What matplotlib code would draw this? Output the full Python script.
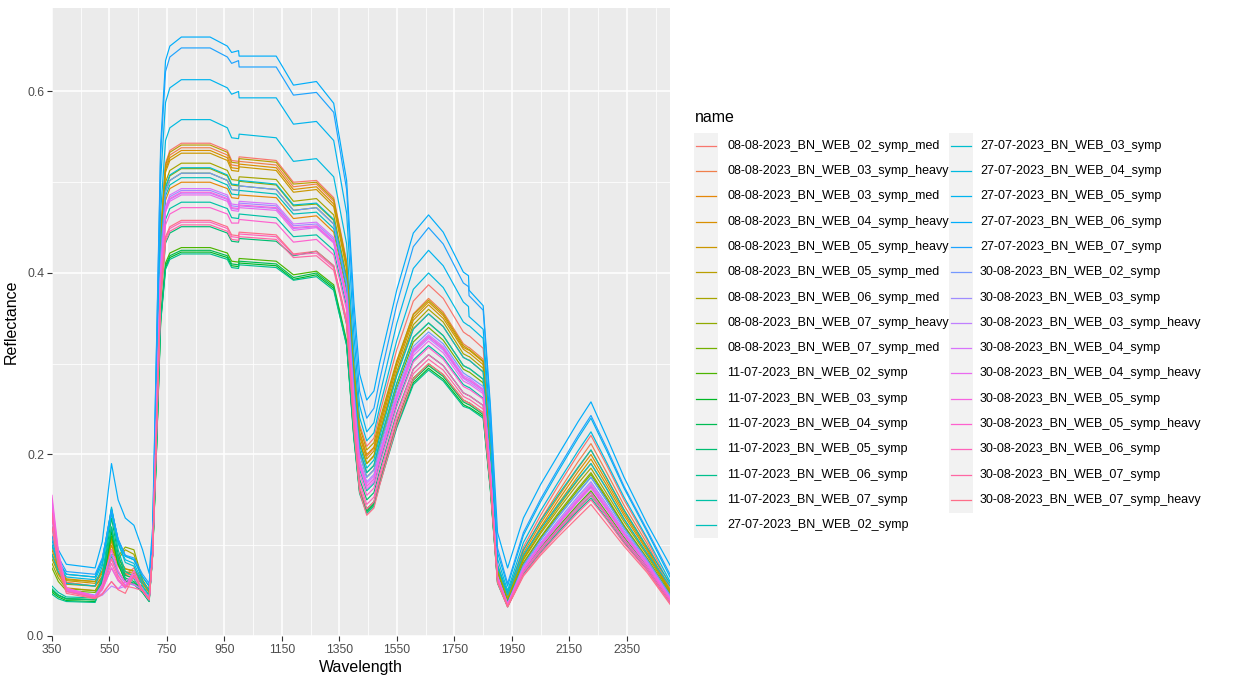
import numpy as np
import matplotlib
matplotlib.use("Agg")
import matplotlib.pyplot as plt
from matplotlib.patches import Rectangle

plt.rcParams['font.family'] = ['Liberation Sans', 'DejaVu Sans']

wavelength = [350, 372, 400, 500, 525, 557, 580, 605, 635, 665, 688,
              700, 712, 728, 745, 760,
              800, 900, 960, 975, 999, 1001, 1130, 1190, 1270, 1330, 1375,
              1400, 1420, 1445, 1470, 1490, 1550, 1607, 1660, 1711, 1781, 1799, 1801, 1850, 1875, 1900,
              1935, 1990, 2050, 2110, 2180, 2225, 2280, 2340, 2420, 2500]

# reflectance per sample (visible | red edge | NIR | SWIR1 | SWIR2)
r0808_02_med = [.100, .075, .059, .055, .065, .095, .077, .067, .075, .060, .050,
                .100, .244, .445, .521, .535,
                .543, .543, .535, .524, .523, .528, .524, .500, .502, .483, .413,
                .301, .233, .209, .218, .245, .316, .369, .387, .372, .335, .331, .331, .317, .213, .079,
                .045, .098, .133, .165, .200, .221, .188, .150, .106, .055]
r0808_03_heavy = [.110, .080, .059, .055, .066, .100, .080, .069, .066, .060, .050,
                  .100, .242, .441, .516, .530,
                  .538, .538, .530, .519, .518, .523, .519, .495, .498, .479, .409,
                  .293, .223, .198, .207, .233, .302, .355, .372, .357, .322, .318, .318, .305, .205, .076,
                  .043, .094, .128, .158, .192, .212, .180, .144, .102, .052]
r0808_03_med = [.090, .068, .053, .050, .064, .105, .080, .067, .064, .058, .048,
                .098, .225, .410, .480, .493,
                .500, .500, .493, .483, .482, .486, .483, .460, .463, .445, .380,
                .276, .213, .190, .198, .223, .289, .339, .355, .341, .307, .304, .304, .291, .195, .073,
                .042, .091, .124, .153, .185, .205, .174, .139, .098, .050]
r0808_04_heavy = [.100, .078, .063, .060, .072, .108, .086, .074, .072, .060, .050,
                  .100, .241, .439, .514, .527,
                  .535, .535, .527, .516, .515, .520, .516, .492, .495, .476, .407,
                  .293, .225, .200, .208, .234, .301, .351, .368, .353, .318, .315, .315, .302, .202, .073,
                  .040, .088, .120, .149, .181, .200, .170, .136, .096, .050]
r0808_05_heavy = [.095, .075, .061, .058, .069, .100, .081, .071, .069, .058, .048,
                  .098, .239, .436, .511, .524,
                  .532, .532, .524, .513, .512, .517, .513, .489, .492, .473, .404,
                  .289, .220, .195, .204, .229, .297, .348, .365, .350, .316, .312, .312, .299, .201, .073,
                  .040, .087, .118, .145, .176, .195, .166, .133, .094, .048]
r0808_05_med = [.090, .074, .062, .060, .071, .105, .085, .074, .071, .060, .050,
                .100, .243, .444, .519, .533,
                .541, .541, .533, .522, .521, .526, .522, .498, .500, .481, .411,
                .298, .230, .205, .213, .238, .304, .354, .370, .355, .320, .316, .316, .303, .204, .073,
                .040, .085, .115, .142, .172, .190, .162, .129, .091, .050]
r0808_06_med = [.085, .069, .057, .055, .065, .095, .085, .095, .090, .060, .050,
                .100, .234, .427, .500, .513,
                .521, .521, .513, .503, .502, .506, .503, .479, .482, .464, .396,
                .283, .215, .190, .199, .224, .292, .343, .360, .346, .311, .308, .308, .295, .198, .072,
                .040, .084, .113, .139, .168, .185, .157, .126, .089, .048]
r0808_07_heavy = [.080, .064, .052, .050, .060, .090, .088, .098, .095, .062, .050,
                  .100, .232, .422, .494, .507,
                  .515, .515, .507, .497, .496, .501, .497, .474, .476, .458, .391,
                  .275, .205, .180, .188, .213, .279, .329, .345, .331, .298, .295, .295, .283, .190, .069,
                  .038, .081, .109, .135, .163, .180, .153, .122, .086, .046]
r0808_07_med = [.075, .060, .050, .048, .058, .088, .070, .060, .058, .055, .045,
                .095, .230, .418, .490, .502,
                .510, .510, .502, .492, .491, .496, .492, .469, .472, .454, .388,
                .271, .201, .175, .183, .208, .274, .324, .340, .326, .294, .291, .291, .279, .187, .067,
                .037, .079, .108, .133, .161, .178, .151, .121, .085, .046]
r1107_02 = [.050, .045, .041, .040, .058, .110, .079, .061, .058, .050, .040,
            .090, .193, .351, .411, .422,
            .428, .428, .422, .413, .412, .416, .413, .398, .402, .387, .325,
            .223, .162, .140, .148, .172, .236, .284, .300, .288, .260, .257, .257, .246, .165, .062,
            .035, .073, .098, .120, .145, .160, .136, .109, .077, .040]
r1107_03 = [.048, .043, .039, .038, .057, .115, .080, .061, .057, .048, .038,
            .088, .190, .347, .406, .417,
            .423, .423, .417, .408, .407, .411, .408, .393, .398, .383, .321,
            .220, .159, .137, .145, .169, .232, .279, .295, .283, .255, .252, .252, .242, .162, .059,
            .033, .070, .094, .116, .140, .155, .132, .105, .074, .038]
r1107_04 = [.050, .045, .041, .040, .060, .120, .084, .064, .060, .050, .040,
            .090, .191, .349, .408, .419,
            .425, .425, .419, .410, .409, .413, .410, .395, .400, .385, .323,
            .221, .160, .138, .146, .170, .234, .282, .298, .286, .258, .255, .255, .244, .164, .060,
            .033, .071, .096, .118, .143, .158, .134, .107, .076, .039]
r1107_05 = [.052, .045, .041, .040, .063, .130, .090, .067, .063, .050, .040,
            .090, .203, .370, .433, .444,
            .451, .451, .444, .435, .434, .438, .435, .419, .424, .408, .343,
            .237, .173, .150, .158, .182, .246, .294, .310, .298, .268, .265, .265, .254, .171, .063,
            .035, .074, .100, .123, .149, .165, .140, .112, .079, .042]
r1107_06 = [.046, .041, .038, .037, .058, .120, .083, .062, .058, .048, .038,
            .088, .189, .345, .404, .415,
            .421, .421, .415, .406, .405, .409, .406, .392, .396, .381, .320,
            .218, .157, .135, .143, .167, .230, .277, .293, .281, .253, .251, .251, .240, .161, .058,
            .032, .068, .092, .114, .138, .152, .129, .103, .073, .037]
r1107_07 = [.055, .048, .043, .042, .066, .138, .095, .071, .066, .052, .042,
            .092, .215, .392, .459, .471,
            .478, .478, .471, .461, .460, .465, .461, .440, .442, .425, .363,
            .251, .184, .160, .168, .192, .256, .304, .320, .307, .277, .274, .274, .262, .176, .065,
            .037, .078, .106, .131, .158, .175, .149, .119, .084, .045]
r2707_02 = [.100, .081, .068, .065, .084, .140, .106, .088, .084, .065, .055,
            .105, .227, .414, .485, .497,
            .505, .505, .497, .487, .486, .491, .487, .465, .467, .449, .384,
            .272, .204, .180, .188, .213, .279, .329, .345, .331, .298, .295, .295, .283, .190, .078,
            .048, .095, .127, .155, .186, .205, .174, .139, .098, .058]
r2707_03 = [.090, .071, .058, .055, .077, .142, .103, .081, .077, .055, .045,
            .095, .232, .423, .495, .508,
            .516, .516, .508, .498, .497, .502, .498, .475, .477, .459, .392,
            .278, .210, .185, .194, .219, .287, .338, .355, .341, .307, .304, .304, .291, .195, .076,
            .045, .089, .118, .144, .173, .190, .162, .129, .091, .055]
r2707_04 = [.100, .079, .065, .062, .080, .135, .102, .084, .080, .060, .050,
            .100, .256, .467, .546, .560,
            .569, .569, .560, .549, .548, .553, .549, .523, .526, .506, .432,
            .313, .241, .215, .224, .252, .326, .382, .400, .384, .346, .342, .342, .328, .220, .085,
            .050, .103, .138, .169, .204, .225, .191, .153, .108, .060]
r2707_05 = [.105, .083, .068, .065, .084, .140, .106, .088, .084, .065, .055,
            .105, .276, .503, .588, .604,
            .613, .613, .604, .597, .600, .593, .593, .564, .567, .546, .466,
            .333, .254, .225, .235, .265, .345, .405, .425, .408, .368, .363, .352, .338, .234, .092,
            .055, .111, .148, .181, .218, .240, .204, .163, .115, .065]
r2707_06 = [.120, .095, .079, .075, .104, .190, .150, .130, .122, .095, .069,
            .119, .297, .541, .634, .650,
            .660, .660, .650, .643, .645, .639, .639, .607, .611, .587, .502,
            .369, .289, .260, .270, .301, .382, .444, .464, .445, .401, .397, .381, .364, .255, .114,
            .075, .130, .167, .199, .236, .258, .219, .175, .124, .078]
r2707_07 = [.110, .087, .071, .068, .086, .138, .107, .089, .086, .068, .058,
            .108, .292, .531, .622, .638,
            .648, .648, .638, .631, .634, .627, .627, .596, .599, .577, .492,
            .353, .270, .240, .251, .282, .366, .429, .450, .432, .389, .385, .375, .359, .248, .097,
            .058, .114, .151, .184, .221, .243, .207, .165, .117, .068]
r3008_02 = [.120, .079, .051, .045, .056, .090, .070, .059, .056, .052, .042,
            .092, .230, .418, .490, .502,
            .510, .510, .502, .492, .491, .496, .492, .469, .472, .454, .388,
            .271, .201, .175, .183, .207, .271, .319, .335, .322, .290, .286, .286, .275, .184, .066,
            .036, .078, .106, .131, .158, .175, .149, .119, .084, .045]
r3008_03 = [.130, .082, .050, .043, .051, .075, .061, .053, .065, .050, .040,
            .090, .221, .403, .471, .484,
            .491, .491, .484, .474, .473, .477, .474, .452, .454, .437, .373,
            .261, .194, .170, .178, .202, .266, .314, .330, .317, .285, .282, .282, .271, .182, .065,
            .035, .076, .103, .127, .154, .170, .145, .116, .082, .043]
r3008_03_heavy = [.140, .086, .050, .042, .045, .055, .052, .055, .065, .050, .040,
                  .090, .220, .400, .468, .481,
                  .488, .488, .481, .471, .470, .474, .471, .449, .451, .434, .371,
                  .258, .190, .165, .173, .198, .263, .312, .328, .315, .284, .280, .280, .269, .180, .064,
                  .035, .074, .100, .123, .149, .165, .140, .112, .079, .042]
r3008_04 = [.145, .089, .052, .044, .054, .085, .067, .056, .068, .051, .041,
            .091, .222, .404, .473, .486,
            .493, .493, .486, .476, .475, .479, .476, .454, .456, .439, .375,
            .261, .193, .168, .176, .201, .266, .316, .332, .319, .287, .284, .284, .272, .183, .065,
            .035, .075, .102, .125, .152, .168, .143, .114, .081, .042]
r3008_04_heavy = [.150, .091, .052, .043, .047, .060, .052, .060, .068, .050, .040,
                  .090, .219, .399, .467, .479,
                  .486, .486, .479, .469, .468, .472, .469, .447, .450, .433, .369,
                  .255, .187, .162, .170, .195, .260, .309, .325, .312, .281, .278, .278, .267, .179, .063,
                  .034, .073, .099, .122, .148, .163, .139, .111, .078, .040]
r3008_05 = [.155, .094, .053, .044, .057, .095, .072, .059, .057, .051, .041,
            .091, .220, .401, .469, .482,
            .489, .489, .482, .472, .471, .475, .472, .450, .452, .435, .372,
            .258, .190, .165, .173, .198, .264, .314, .330, .317, .285, .282, .282, .271, .182, .065,
            .035, .074, .101, .124, .150, .166, .141, .113, .080, .041]
r3008_05_heavy = [.140, .087, .051, .043, .051, .075, .061, .053, .072, .050, .040,
                  .090, .212, .387, .453, .465,
                  .472, .472, .465, .455, .455, .459, .455, .434, .437, .420, .359,
                  .247, .179, .155, .163, .188, .253, .302, .318, .305, .275, .272, .272, .261, .175, .062,
                  .034, .071, .096, .118, .143, .158, .134, .107, .076, .040]
r3008_06 = [.130, .082, .049, .042, .052, .080, .063, .053, .066, .050, .040,
            .090, .205, .374, .438, .449,
            .456, .456, .449, .440, .439, .443, .440, .420, .422, .406, .347,
            .236, .169, .145, .153, .178, .244, .294, .310, .298, .268, .265, .265, .254, .171, .061,
            .033, .070, .094, .116, .140, .155, .132, .105, .074, .038]
r3008_07 = [.135, .084, .049, .042, .053, .085, .066, .055, .053, .050, .040,
            .090, .204, .371, .435, .446,
            .453, .453, .446, .437, .436, .440, .437, .417, .419, .403, .344,
            .232, .164, .140, .148, .173, .239, .289, .305, .293, .264, .261, .261, .250, .168, .059,
            .032, .067, .091, .112, .136, .150, .128, .102, .072, .036]
r3008_07_heavy = [.120, .077, .047, .041, .046, .060, .051, .047, .067, .050, .040,
                  .090, .206, .376, .440, .451,
                  .458, .458, .451, .442, .441, .445, .442, .421, .424, .408, .348,
                  .230, .159, .133, .141, .166, .233, .283, .300, .288, .260, .257, .257, .246, .165, .059,
                  .032, .066, .089, .109, .131, .145, .123, .099, .070, .035]

names = ["08-08-2023_BN_WEB_02_symp_med", "08-08-2023_BN_WEB_03_symp_heavy",
         "08-08-2023_BN_WEB_03_symp_med", "08-08-2023_BN_WEB_04_symp_heavy",
         "08-08-2023_BN_WEB_05_symp_heavy", "08-08-2023_BN_WEB_05_symp_med",
         "08-08-2023_BN_WEB_06_symp_med", "08-08-2023_BN_WEB_07_symp_heavy",
         "08-08-2023_BN_WEB_07_symp_med", "11-07-2023_BN_WEB_02_symp",
         "11-07-2023_BN_WEB_03_symp", "11-07-2023_BN_WEB_04_symp",
         "11-07-2023_BN_WEB_05_symp", "11-07-2023_BN_WEB_06_symp",
         "11-07-2023_BN_WEB_07_symp", "27-07-2023_BN_WEB_02_symp",
         "27-07-2023_BN_WEB_03_symp", "27-07-2023_BN_WEB_04_symp",
         "27-07-2023_BN_WEB_05_symp", "27-07-2023_BN_WEB_06_symp",
         "27-07-2023_BN_WEB_07_symp", "30-08-2023_BN_WEB_02_symp",
         "30-08-2023_BN_WEB_03_symp", "30-08-2023_BN_WEB_03_symp_heavy",
         "30-08-2023_BN_WEB_04_symp", "30-08-2023_BN_WEB_04_symp_heavy",
         "30-08-2023_BN_WEB_05_symp", "30-08-2023_BN_WEB_05_symp_heavy",
         "30-08-2023_BN_WEB_06_symp", "30-08-2023_BN_WEB_07_symp",
         "30-08-2023_BN_WEB_07_symp_heavy"]

series = [r0808_02_med, r0808_03_heavy, r0808_03_med, r0808_04_heavy,
          r0808_05_heavy, r0808_05_med, r0808_06_med, r0808_07_heavy,
          r0808_07_med, r1107_02, r1107_03, r1107_04, r1107_05, r1107_06,
          r1107_07, r2707_02, r2707_03, r2707_04, r2707_05, r2707_06,
          r2707_07, r3008_02, r3008_03, r3008_03_heavy, r3008_04,
          r3008_04_heavy, r3008_05, r3008_05_heavy, r3008_06, r3008_07,
          r3008_07_heavy]


def hcl(h, c=100.0, l=65.0):
    # polar Luv -> sRGB, same as R's hcl() behind ggplot's default hue scale
    hr = np.deg2rad(h)
    U, V = c * np.cos(hr), c * np.sin(hr)
    Y = 100.0 * ((l + 16) / 116) ** 3
    u = U / (13 * l) + 0.1978398
    v = V / (13 * l) + 0.4683363
    X = 9.0 * Y * u / (4 * v)
    Z = -X / 3 - 5 * Y + 3 * Y / v
    rgb = np.array([3.240479 * X - 1.537150 * Y - 0.498535 * Z,
                    -0.969256 * X + 1.875992 * Y + 0.041556 * Z,
                    0.055648 * X - 0.204043 * Y + 1.057311 * Z]) / 100
    rgb = np.where(rgb > 0.00304, 1.055 * np.abs(rgb) ** (1 / 2.4) - 0.055, 12.92 * rgb)
    return tuple(np.clip(rgb, 0, 1))


n = len(names)
hues = np.linspace(15, 375, n + 1)[:n]
colors = [hcl(h) for h in hues]

W, H = 1248, 682
fig = plt.figure(figsize=(W / 100, H / 100), dpi=100)
ax = fig.add_axes([52 / W, 1 - 636 / H, (670 - 52) / W, (636 - 8) / H])
ax.set_facecolor('#EBEBEB')

for vals, col in zip(series, colors):
    ax.plot(wavelength, vals, color=col, lw=0.85)

ax.set_xlim(350, 2500)
ax.set_ylim(0, 0.692)
ax.set_xticks(range(350, 2500, 200))
ax.set_xticks(range(450, 2500, 200), minor=True)
ax.set_yticks([0, 0.2, 0.4, 0.6])
ax.set_yticklabels(["0.0", "0.2", "0.4", "0.6"])
ax.set_yticks([0.1, 0.3, 0.5], minor=True)
ax.grid(which='major', color='white', lw=1.1)
ax.grid(which='minor', color='white', lw=0.55)
ax.set_axisbelow(True)
for s in ax.spines.values():
    s.set_visible(False)
ax.tick_params(which='major', length=3.7, width=0.8, color='#333333',
               labelcolor='#4D4D4D', labelsize=8.8, pad=2)
ax.tick_params(which='minor', length=0)
ax.set_xlabel("Wavelength", fontsize=11.5, labelpad=3)
ax.set_ylabel("Reflectance", fontsize=11.5, labelpad=6)

# legend, drawn by hand in pixel coordinates
lg = fig.add_axes([0, 0, 1, 1])
lg.set_xlim(0, W)
lg.set_ylim(H, 0)
lg.axis('off')
lg.text(695, 117, "name", fontsize=11.5, va='center', ha='left')
row_h = 25.3
y0 = 145.7
for i, (nm, col) in enumerate(zip(names, colors)):
    c, r = divmod(i, 16)
    kx = 694 if c == 0 else 949
    tx = 727 if c == 0 else 980
    yc = y0 + r * row_h
    lg.add_patch(Rectangle((kx, yc - row_h / 2), 24, row_h, color='#F2F2F2', lw=0))
    lg.plot([kx + 2, kx + 22], [yc, yc], color=col, lw=0.9)
    lg.text(tx, yc, nm, fontsize=9, va='center', ha='left', color='black')

fig.savefig("out.png", dpi=100)
